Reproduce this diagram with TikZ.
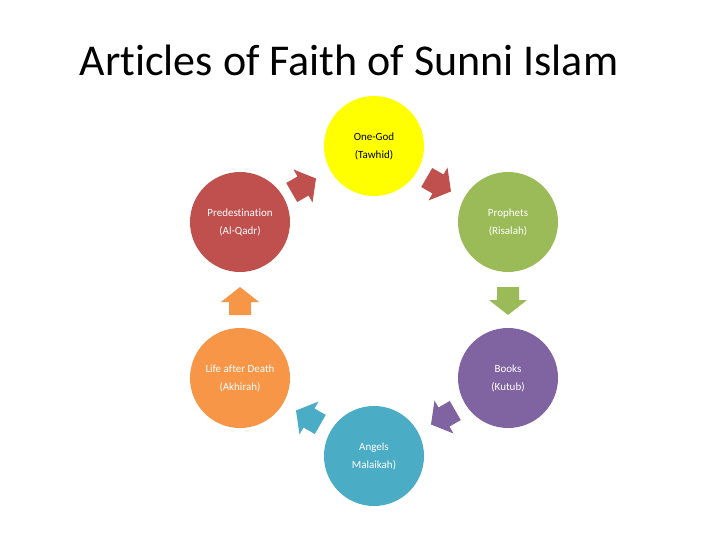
\documentclass[tikz,border=0pt]{standalone}
\usepackage{fontspec}
\setmainfont[Ligatures={NoCommon}]{Carlito}
\definecolor{cYellow}{HTML}{FFFF00}
\definecolor{cRed}{HTML}{C0504D}
\definecolor{cGreen}{HTML}{9BBB59}
\definecolor{cPurple}{HTML}{8064A2}
\definecolor{cTeal}{HTML}{4BACC6}
\definecolor{cOrange}{HTML}{F79646}
\begin{document}
\begin{tikzpicture}[x=1pt,y=-1pt,
  circ/.style={circle,minimum size=100pt,inner sep=0pt,align=center,text=white,
    font=\fontsize{11}{18}\selectfont},
  blockarrow/.pic={\fill (-13,-11) -- (0,-11) -- (0,-19) -- (15,0) -- (0,19) -- (0,11) -- (-13,11) -- cycle;}]
\useasboundingbox[fill=white] (0,0) rectangle (720,540);
\node[font=\fontsize{44}{52}\selectfont,anchor=base] (title) at (349,76) {Articles of Faith of Sunni Islam};

\node[circ,fill=cYellow,text=black] (god) at (374,146) {One-God\\(Tawhid)};
\node[circ,fill=cGreen] (proph) at (508,222) {Prophets\\(Risalah)};
\node[circ,fill=cPurple] (books) at (508,378) {Books\\(Kutub)};
\node[circ,fill=cTeal] (angels) at (374,456) {Angels\\Malaikah)};
\node[circ,fill=cOrange] (life) at (240,378) {Life after Death\\(Akhirah)};
\node[circ,fill=cRed] (pred) at (240,222) {Predestination\\(Al-Qadr)};

\pic[fill=cRed,rotate=30] at (303,186) {blockarrow};
\pic[fill=cRed,rotate=-30] at (438,184) {blockarrow};
\pic[fill=cGreen,rotate=-90] at (508,300) {blockarrow};
\pic[fill=cPurple,rotate=-150] at (444,417) {blockarrow};
\pic[fill=cTeal,rotate=150] at (309,418) {blockarrow};
\pic[fill=cOrange,rotate=90] at (240,302) {blockarrow};
\end{tikzpicture}
\end{document}
